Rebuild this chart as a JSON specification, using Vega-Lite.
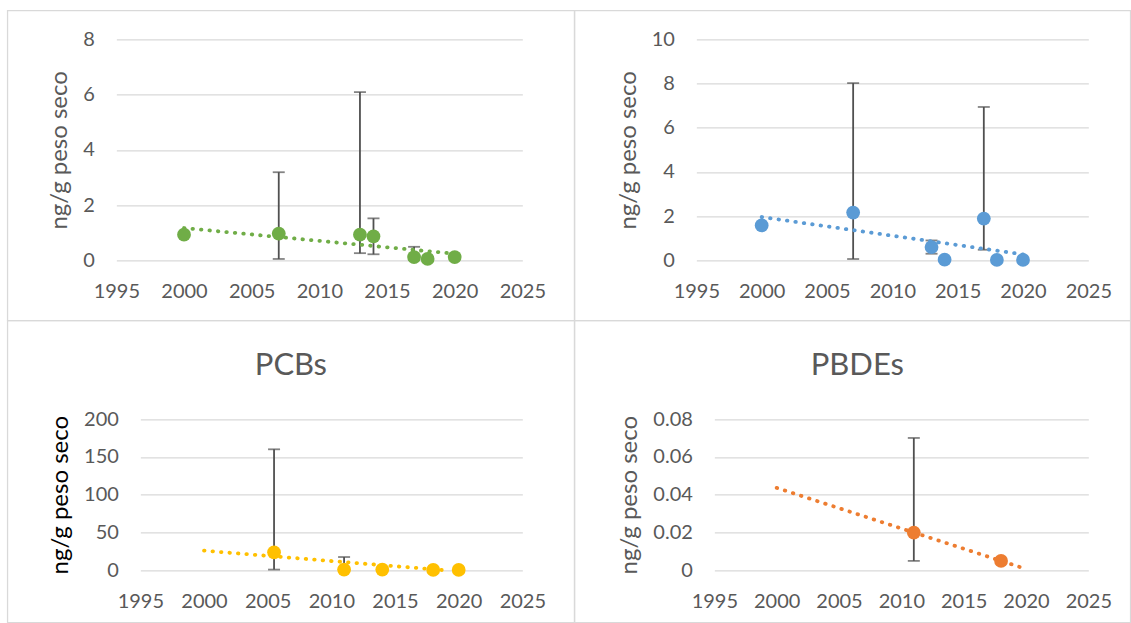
{
  "$schema": "https://vega.github.io/schema/vega-lite/v6.json",
  "padding": {"left": 6.35, "top": 9.35, "right": 0, "bottom": 0},
  "background": "white",
  "config": {
    "font": "Lato",
    "view": {"stroke": "#D9D9D9", "strokeWidth": 1.3},
    "axis": {
      "labelFont": "Lato", "labelFontSize": 20, "labelColor": "#595959",
      "domain": false, "ticks": false, "tickSize": 0,
      "labelFlush": false, "labelOverlap": false,
      "titleFont": "Lato", "titleFontWeight": "normal", "titleColor": "#595959", "titleFontSize": 24,
      "gridColor": "#D9D9D9", "gridWidth": 1.3
    },
    "axisX": {"grid": false, "labelPadding": 21},
    "axisY": {"grid": true, "labelPadding": 0, "titlePadding": 11},
    "title": {"font": "Lato", "fontSize": 31, "fontWeight": "normal", "color": "#595959", "anchor": "middle", "frame": "group", "baseline": "alphabetic", "offset": -62}
  },
  "datasets": {
    "puntos": [
      {"serie": "s1", "year": 2000, "value": 0.93},
      {"serie": "s1", "year": 2007, "value": 0.97, "low": 0.05, "high": 3.19},
      {"serie": "s1", "year": 2013, "value": 0.93, "low": 0.26, "high": 6.09},
      {"serie": "s1", "year": 2014, "value": 0.87, "low": 0.22, "high": 1.52},
      {"serie": "s1", "year": 2017, "value": 0.12, "low": 0.02, "high": 0.49},
      {"serie": "s1", "year": 2018, "value": 0.05},
      {"serie": "s1", "year": 2020, "value": 0.12},
      {"serie": "s2", "year": 2000, "value": 1.58},
      {"serie": "s2", "year": 2007, "value": 2.16, "low": 0.06, "high": 8.02},
      {"serie": "s2", "year": 2013, "value": 0.6, "low": 0.3, "high": 0.9},
      {"serie": "s2", "year": 2014, "value": 0.03},
      {"serie": "s2", "year": 2017, "value": 1.89, "low": 0.48, "high": 6.94},
      {"serie": "s2", "year": 2018, "value": 0.02},
      {"serie": "s2", "year": 2020, "value": 0.02},
      {"serie": "PCBs", "year": 2005.5, "value": 23.8, "low": 1, "high": 160},
      {"serie": "PCBs", "year": 2011, "value": 1, "low": 0.5, "high": 17.6},
      {"serie": "PCBs", "year": 2014, "value": 1},
      {"serie": "PCBs", "year": 2018, "value": 0.5},
      {"serie": "PCBs", "year": 2020, "value": 0.5},
      {"serie": "PBDEs", "year": 2011, "value": 0.02, "low": 0.005, "high": 0.07},
      {"serie": "PBDEs", "year": 2018, "value": 0.005}
    ],
    "tendencia": [
      {"serie": "s1", "year": 2000, "value": 1.17},
      {"serie": "s1", "year": 2020, "value": 0.24},
      {"serie": "s2", "year": 2000, "value": 1.96},
      {"serie": "s2", "year": 2020, "value": 0.27},
      {"serie": "PCBs", "year": 2000, "value": 26},
      {"serie": "PCBs", "year": 2019, "value": 0},
      {"serie": "PBDEs", "year": 2000, "value": 0.0436},
      {"serie": "PBDEs", "year": 2020, "value": 0.0007}
    ]
  },
  "columns": 2,
  "spacing": 0,
  "bounds": "flush",
  "concat": [
    {
      "width": 567, "height": 310,
      "encoding": {
        "x": {"field": "year", "type": "quantitative", "scale": {"domain": [1995, 2025], "range": [109, 515], "nice": false, "zero": false},
              "axis": {"values": [1995, 2000, 2005, 2010, 2015, 2020, 2025], "format": "d", "offset": -60, "title": null}}
      },
      "layer": [
        {
          "data": {"name": "puntos"},
          "transform": [{"filter": "datum.serie === 's1' && isValid(datum.high)"}],
          "mark": {"type": "errorbar", "color": "#505050", "thickness": 1.8, "ticks": {"size": 12, "thickness": 1.8}},
          "encoding": {
            "y": {"field": "low", "type": "quantitative", "scale": {"domain": [0, 8], "range": [250, 29], "nice": false, "zero": false},
                  "axis": {"values": [0, 2, 4, 6, 8], "offset": -87, "title": "ng/g peso seco"}},
            "y2": {"field": "high"}
          }
        },
        {
          "data": {"name": "tendencia"},
          "transform": [{"filter": "datum.serie === 's1'"}],
          "mark": {"type": "line", "color": "#70AD47", "strokeWidth": 3.8, "strokeDash": [0.5, 8], "strokeCap": "round"},
          "encoding": {
            "y": {"field": "value", "type": "quantitative", "scale": {"domain": [0, 8], "range": [250, 29], "nice": false, "zero": false},
                  "axis": {"values": [0, 2, 4, 6, 8], "offset": -87, "title": "ng/g peso seco"}}
          }
        },
        {
          "data": {"name": "puntos"},
          "transform": [{"filter": "datum.serie === 's1'"}],
          "mark": {"type": "circle", "color": "#70AD47", "size": 190, "opacity": 1},
          "encoding": {
            "y": {"field": "value", "type": "quantitative", "scale": {"domain": [0, 8], "range": [250, 29], "nice": false, "zero": false},
                  "axis": {"values": [0, 2, 4, 6, 8], "offset": -87, "title": "ng/g peso seco"}}
          }
        }
      ]
    },
    {
      "width": 556, "height": 310,
      "encoding": {
        "x": {"field": "year", "type": "quantitative", "scale": {"domain": [1995, 2025], "range": [122, 514], "nice": false, "zero": false},
              "axis": {"values": [1995, 2000, 2005, 2010, 2015, 2020, 2025], "format": "d", "offset": -60, "title": null}}
      },
      "layer": [
        {
          "data": {"name": "puntos"},
          "transform": [{"filter": "datum.serie === 's2' && isValid(datum.high)"}],
          "mark": {"type": "errorbar", "color": "#505050", "thickness": 1.8, "ticks": {"size": 12, "thickness": 1.8}},
          "encoding": {
            "y": {"field": "low", "type": "quantitative", "scale": {"domain": [0, 10], "range": [250, 29], "nice": false, "zero": false},
                  "axis": {"values": [0, 2, 4, 6, 8, 10], "offset": -100, "title": "ng/g peso seco"}},
            "y2": {"field": "high"}
          }
        },
        {
          "data": {"name": "tendencia"},
          "transform": [{"filter": "datum.serie === 's2'"}],
          "mark": {"type": "line", "color": "#5B9BD5", "strokeWidth": 3.8, "strokeDash": [0.5, 8], "strokeCap": "round"},
          "encoding": {
            "y": {"field": "value", "type": "quantitative", "scale": {"domain": [0, 10], "range": [250, 29], "nice": false, "zero": false},
                  "axis": {"values": [0, 2, 4, 6, 8, 10], "offset": -100, "title": "ng/g peso seco"}}
          }
        },
        {
          "data": {"name": "puntos"},
          "transform": [{"filter": "datum.serie === 's2'"}],
          "mark": {"type": "circle", "color": "#5B9BD5", "size": 190, "opacity": 1},
          "encoding": {
            "y": {"field": "value", "type": "quantitative", "scale": {"domain": [0, 10], "range": [250, 29], "nice": false, "zero": false},
                  "axis": {"values": [0, 2, 4, 6, 8, 10], "offset": -100, "title": "ng/g peso seco"}}
          }
        }
      ]
    },
    {
      "width": 567, "height": 302,
      "title": "PCBs",
      "encoding": {
        "x": {"field": "year", "type": "quantitative", "scale": {"domain": [1995, 2025], "range": [133, 515], "nice": false, "zero": false},
              "axis": {"values": [1995, 2000, 2005, 2010, 2015, 2020, 2025], "format": "d", "offset": -52, "title": null}}
      },
      "layer": [
        {
          "data": {"name": "puntos"},
          "transform": [{"filter": "datum.serie === 'PCBs' && isValid(datum.high)"}],
          "mark": {"type": "errorbar", "color": "#505050", "thickness": 1.8, "ticks": {"size": 12, "thickness": 1.8}},
          "encoding": {
            "y": {"field": "low", "type": "quantitative", "scale": {"domain": [0, 200], "range": [250, 98.7], "nice": false, "zero": false},
                  "axis": {"values": [0, 50, 100, 150, 200], "format": "d", "offset": -111, "title": "ng/g peso seco", "titleColor": "#000000"}},
            "y2": {"field": "high"}
          }
        },
        {
          "data": {"name": "tendencia"},
          "transform": [{"filter": "datum.serie === 'PCBs'"}],
          "mark": {"type": "line", "color": "#FFC000", "strokeWidth": 3.8, "strokeDash": [0.5, 8], "strokeCap": "round"},
          "encoding": {
            "y": {"field": "value", "type": "quantitative", "scale": {"domain": [0, 200], "range": [250, 98.7], "nice": false, "zero": false},
                  "axis": {"values": [0, 50, 100, 150, 200], "format": "d", "offset": -111, "title": "ng/g peso seco", "titleColor": "#000000"}}
          }
        },
        {
          "data": {"name": "puntos"},
          "transform": [{"filter": "datum.serie === 'PCBs'"}],
          "mark": {"type": "circle", "color": "#FFC000", "size": 190, "opacity": 1},
          "encoding": {
            "y": {"field": "value", "type": "quantitative", "scale": {"domain": [0, 200], "range": [250, 98.7], "nice": false, "zero": false},
                  "axis": {"values": [0, 50, 100, 150, 200], "format": "d", "offset": -111, "title": "ng/g peso seco", "titleColor": "#000000"}}
          }
        }
      ]
    },
    {
      "width": 556, "height": 302,
      "title": {"text": "PBDEs", "dx": 5},
      "encoding": {
        "x": {"field": "year", "type": "quantitative", "scale": {"domain": [1995, 2025], "range": [140, 514], "nice": false, "zero": false},
              "axis": {"values": [1995, 2000, 2005, 2010, 2015, 2020, 2025], "format": "d", "offset": -52, "title": null}}
      },
      "layer": [
        {
          "data": {"name": "puntos"},
          "transform": [{"filter": "datum.serie === 'PBDEs' && isValid(datum.high)"}],
          "mark": {"type": "errorbar", "color": "#505050", "thickness": 1.8, "ticks": {"size": 12, "thickness": 1.8}},
          "encoding": {
            "y": {"field": "low", "type": "quantitative", "scale": {"domain": [0, 0.08], "range": [250, 98.7], "nice": false, "zero": false},
                  "axis": {"values": [0, 0.02, 0.04, 0.06, 0.08], "format": ".2~f", "offset": -118, "title": "ng/g peso seco"}},
            "y2": {"field": "high"}
          }
        },
        {
          "data": {"name": "tendencia"},
          "transform": [{"filter": "datum.serie === 'PBDEs'"}],
          "mark": {"type": "line", "color": "#ED7D31", "strokeWidth": 3.8, "strokeDash": [0.5, 8], "strokeCap": "round"},
          "encoding": {
            "y": {"field": "value", "type": "quantitative", "scale": {"domain": [0, 0.08], "range": [250, 98.7], "nice": false, "zero": false},
                  "axis": {"values": [0, 0.02, 0.04, 0.06, 0.08], "format": ".2~f", "offset": -118, "title": "ng/g peso seco"}}
          }
        },
        {
          "data": {"name": "puntos"},
          "transform": [{"filter": "datum.serie === 'PBDEs'"}],
          "mark": {"type": "circle", "color": "#ED7D31", "size": 190, "opacity": 1},
          "encoding": {
            "y": {"field": "value", "type": "quantitative", "scale": {"domain": [0, 0.08], "range": [250, 98.7], "nice": false, "zero": false},
                  "axis": {"values": [0, 0.02, 0.04, 0.06, 0.08], "format": ".2~f", "offset": -118, "title": "ng/g peso seco"}}
          }
        }
      ]
    }
  ]
}
